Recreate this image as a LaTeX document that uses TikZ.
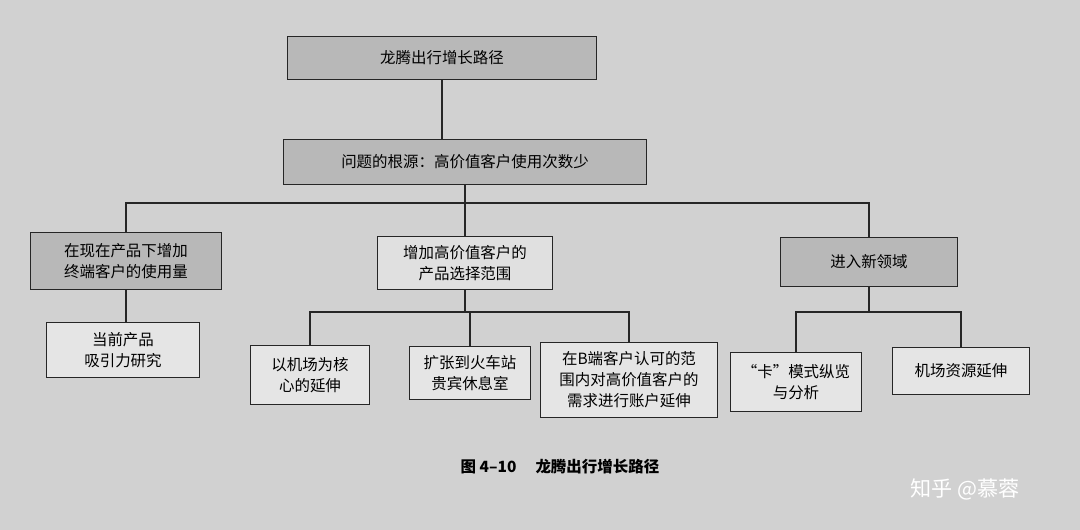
\documentclass[tikz,border=0pt]{standalone}
\usepackage{fontspec}
\setmainfont{Noto Sans CJK SC}
\begin{document}
\begin{tikzpicture}[x=0.025cm,y=-0.025cm,
  box/.style={draw=black!85,line width=0.8pt,fill=#1,inner sep=0pt,align=center,font=\fontsize{11}{15}\selectfont},
  box/.default={black!28},
  sz/.style n args={2}{minimum width=0.7087*#1 pt,minimum height=0.7087*#2 pt},
  ln/.style={draw=black!85,line width=0.8pt}]
\fill[black!18] (0,0) rectangle (1080,530);
\useasboundingbox (0,0) rectangle (1080,530);
\node[box,sz={310}{43}] (top) at (442,58) {龙腾出行增长路径};
\node[box,sz={365}{45}] (root) at (465,162) {问题的根源：高价值客户使用次数少};
\node[box,sz={192}{57}] (a) at (126,261) {在现在产品下增加\\终端客户的使用量};
\node[box=black!12,sz={175}{54}] (b) at (465,263) {增加高价值客户的\\产品选择范围};
\node[box,sz={178}{50}] (c) at (869,262) {进入新领域};
\node[box=black!10,sz={153}{56}] (a1) at (123,350) {当前产品\\吸引力研究};
\node[box=black!10,sz={120}{59}] (b1) at (310,375) {以机场为核\\心的延伸};
\node[box=black!10,sz={121}{54}] (b2) at (470,373) {扩张到火车站\\贵宾休息室};
\node[box=black!10,sz={178}{76}] (b3) at (629,380) {在B端客户认可的范\\围内对高价值客户的\\需求进行账户延伸};
\node[box=black!10,sz={132}{60}] (c1) at (796,382) {“卡”模式纵览\\与分析};
\node[box=black!10,sz={137}{47}] (c2) at (961,371) {机场资源延伸};
\coordinate (h1) at (465,203);
\coordinate (h2) at (465,312);
\coordinate (h3) at (869,312);
\draw[ln] (top.south) -- (top.south |- root.north);
\draw[ln] (root.south) -- (h1);
\draw[ln] (a.north) |- (h1) -| (c.north);
\draw[ln] (h1) -- (b.north);
\draw[ln] (a.south) -- (a.south |- a1.north);
\draw[ln] (b.south) -- (h2);
\draw[ln] (b1.north) |- (h2) -| (b3.north);
\draw[ln] (h2) -| (b2.north);
\draw[ln] (c.south) -- (h3);
\draw[ln] (c1.north) |- (h3) -| (c2.north);
\node[font=\bfseries\fontsize{11}{13}\selectfont] (cap) at (560,467) {图 4–10\quad\ 龙腾出行增长路径};
\node[text=white,font=\fontsize{15}{18}\selectfont] (wm) at (965,489) {知乎 @慕蓉};
\end{tikzpicture}
\end{document}
